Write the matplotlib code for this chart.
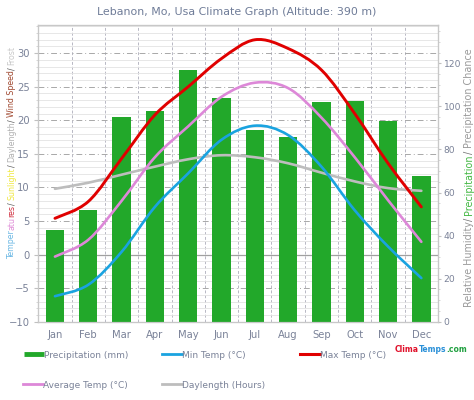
import numpy as np
import matplotlib
matplotlib.use("Agg")
import matplotlib.pyplot as plt
from matplotlib.path import Path
from matplotlib.patches import PathPatch
from matplotlib.lines import Line2D
from matplotlib.ticker import MultipleLocator

months = ["Jan", "Feb", "Mar", "Apr", "May", "Jun", "Jul", "Aug", "Sep", "Oct", "Nov", "Dec"]
precip = [42.5, 51.8, 95, 98, 117, 104, 89, 86, 102, 102.5, 93, 67.5]
min_temp = [-6.2, -4.5, 0.4, 7.1, 12.1, 17.1, 19.2, 17.8, 13.1, 6.6, 1.2, -3.5]
max_temp = [5.4, 7.9, 14.3, 20.8, 25.0, 29.2, 32.0, 30.7, 27.5, 21.0, 13.6, 7.1]
avg_temp = [-0.3, 2.2, 8.0, 14.5, 19.1, 23.5, 25.6, 24.8, 20.4, 14.5, 8.1, 1.9]
daylength = [9.8, 10.7, 11.9, 13.1, 14.2, 14.8, 14.5, 13.6, 12.2, 10.9, 9.9, 9.5]

GREEN = "#22a82a"
BLUE = "#1aa3e0"
RED = "#e00000"
PINK = "#dd88d8"
GREY = "#bdbdbd"
TXT = "#7a8298"

plt.rcParams["font.family"] = ["DejaVu Sans"]


def smooth_path(x, y):
    # catmull-rom style bezier through the points (like a smoothed excel line)
    pts = np.column_stack([x, y]).astype(float)
    n = len(pts)
    verts = [pts[0]]
    codes = [Path.MOVETO]
    for i in range(n - 1):
        p0 = pts[i - 1] if i > 0 else pts[i]
        p1 = pts[i]
        p2 = pts[i + 1]
        p3 = pts[i + 2] if i + 2 < n else pts[i + 1]
        c1 = p1 + (p2 - p0) / 6.0
        c2 = p2 - (p3 - p1) / 6.0
        verts += [c1, c2, p2]
        codes += [Path.CURVE4] * 3
    return Path(verts, codes)


fig = plt.figure(figsize=(4.74, 4.0), dpi=100)
ax = fig.add_axes([38.3 / 474, 78.3 / 400, 399.7 / 474, 296.7 / 400])
axr = ax.twinx()
axl = ax.twinx()

x = np.arange(12)

# grid on the base axis
ax.set_xlim(-0.5, 11.5)
ax.set_ylim(-10, 34.2)
ax.yaxis.set_major_locator(MultipleLocator(5))
ax.yaxis.set_minor_locator(MultipleLocator(1))
ax.grid(axis="y", which="minor", color="#e3e3e3", lw=0.6, ls="-")
ax.grid(axis="y", which="major", color="#a8a8a8", lw=0.7, ls=(0, (6, 3, 1, 3)))
ax.set_xticks(x)
ax.set_xticklabels(months)
ax.set_xticks(np.arange(-0.5, 12, 1), minor=True)
ax.grid(axis="x", which="minor", color="#b8b8c4", lw=0.7, ls=(0, (3, 2)))
ax.axhline(0, color="#a0a0a0", lw=0.9)
ax.tick_params(axis="x", which="both", length=0, pad=6, labelsize=7.2, labelcolor=TXT)
ax.tick_params(axis="y", which="major", length=3, color="#c0c0c0", pad=3, labelsize=7.2, labelcolor=TXT)
ax.tick_params(axis="y", which="minor", length=1.5, color="#d0d0d0")

# precipitation bars on right axis
axr.bar(x, precip, width=0.55, color=GREEN, zorder=2)
axr.set_ylim(0, 137.8)
axr.yaxis.set_major_locator(MultipleLocator(20))
axr.yaxis.set_minor_locator(MultipleLocator(5))
axr.tick_params(axis="y", which="major", length=2, color="#c0c0c0", pad=2, labelsize=6.6, labelcolor=TXT)
axr.tick_params(axis="y", which="minor", length=1.5, color="#d0d0d0")

# temperature / daylength lines on top
axl.set_ylim(ax.get_ylim())
axl.set_xlim(ax.get_xlim())
axl.set_yticks([])
axl.patch.set_visible(False)
for vals, col, lw in [(daylength, GREY, 1.9), (min_temp, BLUE, 1.9),
                      (avg_temp, PINK, 1.9), (max_temp, RED, 2.1)]:
    axl.add_patch(PathPatch(smooth_path(x, vals), fill=False, edgecolor=col,
                            lw=lw, capstyle="round", joinstyle="round"))

for a in (ax, axr, axl):
    for s in a.spines.values():
        s.set_color("#c8c8c8")
        s.set_linewidth(0.8)

fig.text(237 / 474, 1 - 12 / 400, "Lebanon, Mo, Usa Climate Graph (Altitude: 390 m)",
         ha="center", va="center", fontsize=7.9, color="#6f7c98")

# multicolour text pieces, sized to fit a given length in pixels
fig.canvas.draw()
rend = fig.canvas.get_renderer()


def stacked(xpx, ypx, pieces, length, vertical, weight="normal"):
    size = 10.0
    for attempt in range(2):
        arts = []
        cur = (400 - ypx) if vertical else xpx
        for txt, col in pieces:
            if vertical:
                t = fig.text(xpx / 474, cur / 400, txt, rotation=90, ha="center",
                             va="bottom", fontsize=size, color=col, fontweight=weight)
            else:
                t = fig.text(cur / 474, 1 - ypx / 400, txt, ha="left", va="center",
                             fontsize=size, color=col, fontweight=weight)
            bb = t.get_window_extent(rend)
            cur = bb.y1 if vertical else bb.x1
            arts.append(t)
        total = cur - ((400 - ypx) if vertical else xpx)
        if attempt == 0:
            for t in arts:
                t.remove()
            size = size * length / total


stacked(12, 259, [("Temper", "#6cb8e4"), ("atu", "#e090d8"), ("res", "#d03040"),
                  ("/ ", "#555555"), ("Sunlight", "#f0e840"), ("/ ", "#555555"),
                  ("Daylength", "#b0b0b0"), ("/ ", "#555555"),
                  ("Wind Speed", "#a04830"), ("/ ", "#555555"), ("Frost", "#c8c8c8")],
        212, True)
stacked(469, 307, [("Relative Humidity", "#9a9a9a"), ("/ ", "#777777"),
                   ("Precipitation", "#44b844"), ("/ ", "#777777"),
                   ("Precipitation Chance", "#9a9a9a")], 258, True)

stacked(395, 350, [("Clima", "#e0102a"), ("Temps", "#2a90d8"), (".com", "#20a040")],
        72, False, weight="bold")

# legend entries below the chart
entries = [
    (24, 355, Line2D([], [], color=GREEN, lw=3.5, solid_capstyle="butt"), "Precipitation (mm)"),
    (162, 355, Line2D([], [], color=BLUE, lw=2), "Min Temp (\u00b0C)"),
    (300, 355, Line2D([], [], color=RED, lw=2.2), "Max Temp (\u00b0C)"),
    (23, 385, Line2D([], [], color=PINK, lw=2), "Average Temp (\u00b0C)"),
    (162, 385, Line2D([], [], color=GREY, lw=2), "Daylength (Hours)"),
]
for lx, ly, h, lab in entries:
    fig.legend([h], [lab], loc="center left", bbox_to_anchor=(lx / 474, 1 - ly / 400),
               frameon=False, borderpad=0, borderaxespad=0, handlelength=2.2,
               handletextpad=0.05, fontsize=6.5, labelcolor=TXT)

fig.savefig("out.png", dpi=100)
